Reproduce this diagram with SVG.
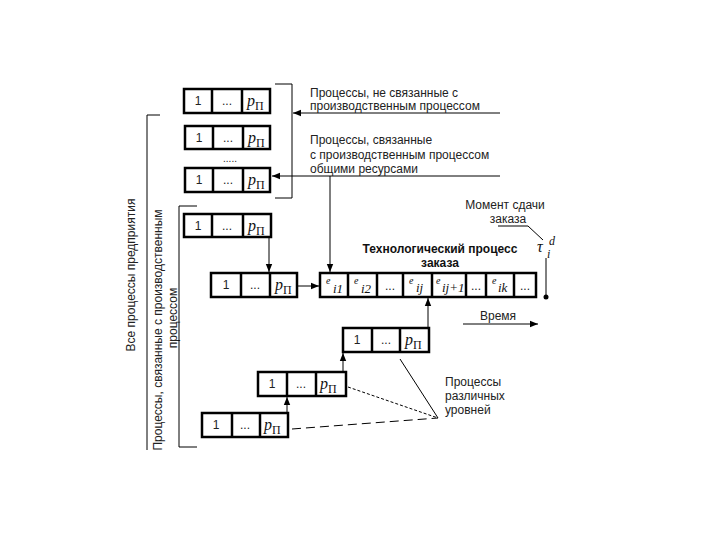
<svg xmlns="http://www.w3.org/2000/svg" width="720" height="540" viewBox="0 0 720 540">
<style>
.bx{fill:#fff;stroke:#000;stroke-width:2.5}
.dv{stroke:#000;stroke-width:2.5}
.ln{fill:none;stroke:#000;stroke-width:1}
.lb{font-family:"Liberation Sans",Arial,sans-serif;font-size:12px;fill:#222}
.bl{font-family:"Liberation Sans",Arial,sans-serif;font-size:12px;font-weight:bold;fill:#111}
.c{font-family:"Liberation Sans",Arial,sans-serif;font-size:12px;fill:#222;text-anchor:middle}
.p{font-family:"Liberation Serif","Times New Roman",serif;font-style:italic;font-size:16px;fill:#111}
.ps{font-family:"Liberation Serif","Times New Roman",serif;font-size:12px;fill:#111}
.e{font-family:"Liberation Serif","Times New Roman",serif;font-style:italic;font-size:10px;fill:#111}
.es{font-family:"Liberation Serif","Times New Roman",serif;font-style:italic;font-size:13px;fill:#111}
</style>
<defs>
<marker id="ah" viewBox="0 0 10 10" refX="10" refY="5" markerWidth="8" markerHeight="8" markerUnits="userSpaceOnUse" orient="auto">
<path d="M0,1 L10,5 L0,9 Z" fill="#000"/>
</marker>
</defs>
<rect width="720" height="540" fill="#fff"/>

<g id="side-labels">
<line class="ln" x1="147" y1="115" x2="147" y2="450"/>
<line class="ln" x1="147" y1="115" x2="160" y2="115"/>
<text class="c" transform="translate(135,275) rotate(-90)">Все процессы предприятия</text>
<text class="c" transform="translate(162,330) rotate(-90)">Процессы, связанные с производственным</text>
<text class="c" transform="translate(177,318) rotate(-90)">процессом</text>
<path class="ln" d="M197,206 H179 V447 H197"/>
<path class="ln" d="M275,84 H292 V198 H275"/>
</g>

<g id="connectors">
<line class="ln" x1="500" y1="113" x2="293" y2="113" marker-end="url(#ah)"/>
<line class="ln" x1="500" y1="176" x2="272" y2="176" marker-end="url(#ah)"/>
<line class="ln" x1="330" y1="176" x2="330" y2="272" marker-end="url(#ah)"/>
<line class="ln" x1="269" y1="238" x2="269" y2="272" marker-end="url(#ah)"/>
<line class="ln" x1="297" y1="286" x2="319" y2="286" marker-end="url(#ah)"/>
<line class="ln" x1="428" y1="327" x2="428" y2="298" marker-end="url(#ah)"/>
<line class="ln" x1="343" y1="371" x2="343" y2="353" marker-end="url(#ah)"/>
<line class="ln" x1="287" y1="412" x2="287" y2="397" marker-end="url(#ah)"/>
<line class="ln" x1="463" y1="324" x2="538" y2="324" marker-end="url(#ah)"/>
<line class="ln" x1="400" y1="359" x2="438" y2="418"/>
<line class="ln" x1="348" y1="387" x2="438" y2="418" stroke-dasharray="3,2"/>
<line class="ln" x1="292" y1="429" x2="438" y2="418" stroke-dasharray="9,5"/>
<path class="ln" d="M498,226 H528 L543,240"/>
<line class="ln" x1="546" y1="258" x2="546" y2="297"/>
<circle cx="546" cy="297" r="2.5" fill="#000"/>
</g>

<g id="box1">
<rect class="bx" x="184" y="89" width="86" height="24"/>
<line class="dv" x1="212" y1="89" x2="212" y2="113"/><line class="dv" x1="242" y1="89" x2="242" y2="113"/>
<text class="c" x="198" y="105">1</text><text class="c" x="227" y="105">...</text>
<text class="p" x="247" y="106">p</text><text class="ps" x="255" y="110">П</text>
</g>
<g id="box2">
<rect class="bx" x="185" y="126" width="85" height="23"/>
<line class="dv" x1="213" y1="126" x2="213" y2="149"/><line class="dv" x1="243" y1="126" x2="243" y2="149"/>
<text class="c" x="199" y="142">1</text><text class="c" x="228" y="142">...</text>
<text class="p" x="248" y="143">p</text><text class="ps" x="256" y="147">П</text>
</g>
<text class="c" x="230" y="162" style="font-size:10px">.....</text>
<g id="box3">
<rect class="bx" x="185" y="168" width="85" height="24"/>
<line class="dv" x1="213" y1="168" x2="213" y2="192"/><line class="dv" x1="243" y1="168" x2="243" y2="192"/>
<text class="c" x="199" y="184">1</text><text class="c" x="228" y="184">...</text>
<text class="p" x="248" y="185">p</text><text class="ps" x="256" y="189">П</text>
</g>
<g id="box4">
<rect class="bx" x="184" y="214" width="87" height="23"/>
<line class="dv" x1="212" y1="214" x2="212" y2="237"/><line class="dv" x1="243" y1="214" x2="243" y2="237"/>
<text class="c" x="198" y="230">1</text><text class="c" x="227" y="230">...</text>
<text class="p" x="248" y="231">p</text><text class="ps" x="256" y="235">П</text>
</g>
<g id="box5">
<rect class="bx" x="211" y="273" width="86" height="24"/>
<line class="dv" x1="241" y1="273" x2="241" y2="297"/><line class="dv" x1="270" y1="273" x2="270" y2="297"/>
<text class="c" x="226" y="289">1</text><text class="c" x="255" y="289">...</text>
<text class="p" x="275" y="290">p</text><text class="ps" x="283" y="294">П</text>
</g>
<g id="tech">
<rect class="bx" x="320" y="273" width="216" height="24"/>
<line class="dv" x1="348" y1="273" x2="348" y2="297"/>
<line class="dv" x1="377" y1="273" x2="377" y2="297"/>
<line class="dv" x1="403" y1="273" x2="403" y2="297"/>
<line class="dv" x1="432" y1="273" x2="432" y2="297"/>
<line class="dv" x1="466" y1="273" x2="466" y2="297"/>
<line class="dv" x1="486" y1="273" x2="486" y2="297"/>
<line class="dv" x1="514" y1="273" x2="514" y2="297"/>
<text class="e" x="326" y="284">e</text><text class="es" x="333" y="293">i1</text>
<text class="e" x="354" y="284">e</text><text class="es" x="361" y="293">i2</text>
<text class="c" x="390" y="290">...</text>
<text class="e" x="409" y="284">e</text><text class="es" x="416" y="292">ij</text>
<text class="e" x="436" y="284">e</text><text class="es" x="442" y="292" font-size="12">ij+1</text>
<text class="c" x="476" y="290">...</text>
<text class="e" x="492" y="284">e</text><text class="es" x="498" y="292">ik</text>
<text class="c" x="525" y="290">...</text>
</g>
<g id="box6">
<rect class="bx" x="343" y="328" width="86" height="24"/>
<line class="dv" x1="372" y1="328" x2="372" y2="352"/><line class="dv" x1="400" y1="328" x2="400" y2="352"/>
<text class="c" x="357" y="344">1</text><text class="c" x="386" y="344">...</text>
<text class="p" x="405" y="345">p</text><text class="ps" x="413" y="349">П</text>
</g>
<g id="box7">
<rect class="bx" x="258" y="372" width="88" height="24"/>
<line class="dv" x1="287" y1="372" x2="287" y2="396"/><line class="dv" x1="316" y1="372" x2="316" y2="396"/>
<text class="c" x="272" y="388">1</text><text class="c" x="301" y="388">...</text>
<text class="p" x="320" y="389">p</text><text class="ps" x="328" y="393">П</text>
</g>
<g id="box8">
<rect class="bx" x="202" y="413" width="86" height="24"/>
<line class="dv" x1="232" y1="413" x2="232" y2="437"/><line class="dv" x1="260" y1="413" x2="260" y2="437"/>
<text class="c" x="216" y="429">1</text><text class="c" x="245" y="429">...</text>
<text class="p" x="264" y="430">p</text><text class="ps" x="272" y="434">П</text>
</g>

<g id="labels">
<text class="lb" x="310" y="97">Процессы, не связанные с</text>
<text class="lb" x="310" y="110">производственным процессом</text>
<text class="lb" x="310" y="144">Процессы, связанные</text>
<text class="lb" x="310" y="159">с производственным процессом</text>
<text class="lb" x="310" y="173">общими ресурсами</text>
<text class="c" x="505" y="209">Момент сдачи</text>
<text class="c" x="508" y="223">заказа</text>
<text class="bl" x="440" y="253" text-anchor="middle">Технологический процесс</text>
<text class="bl" x="440" y="267" text-anchor="middle">заказа</text>
<text class="p" x="537" y="252" font-size="18">τ</text>
<text class="ps" x="549" y="245" font-style="italic" font-size="14">d</text>
<text class="ps" x="547" y="258" font-style="italic" font-size="14">i</text>
<text class="lb" x="480" y="320">Время</text>
<text class="lb" x="445" y="386">Процессы</text>
<text class="lb" x="445" y="400">различных</text>
<text class="lb" x="445" y="414">уровней</text>
</g>
</svg>
